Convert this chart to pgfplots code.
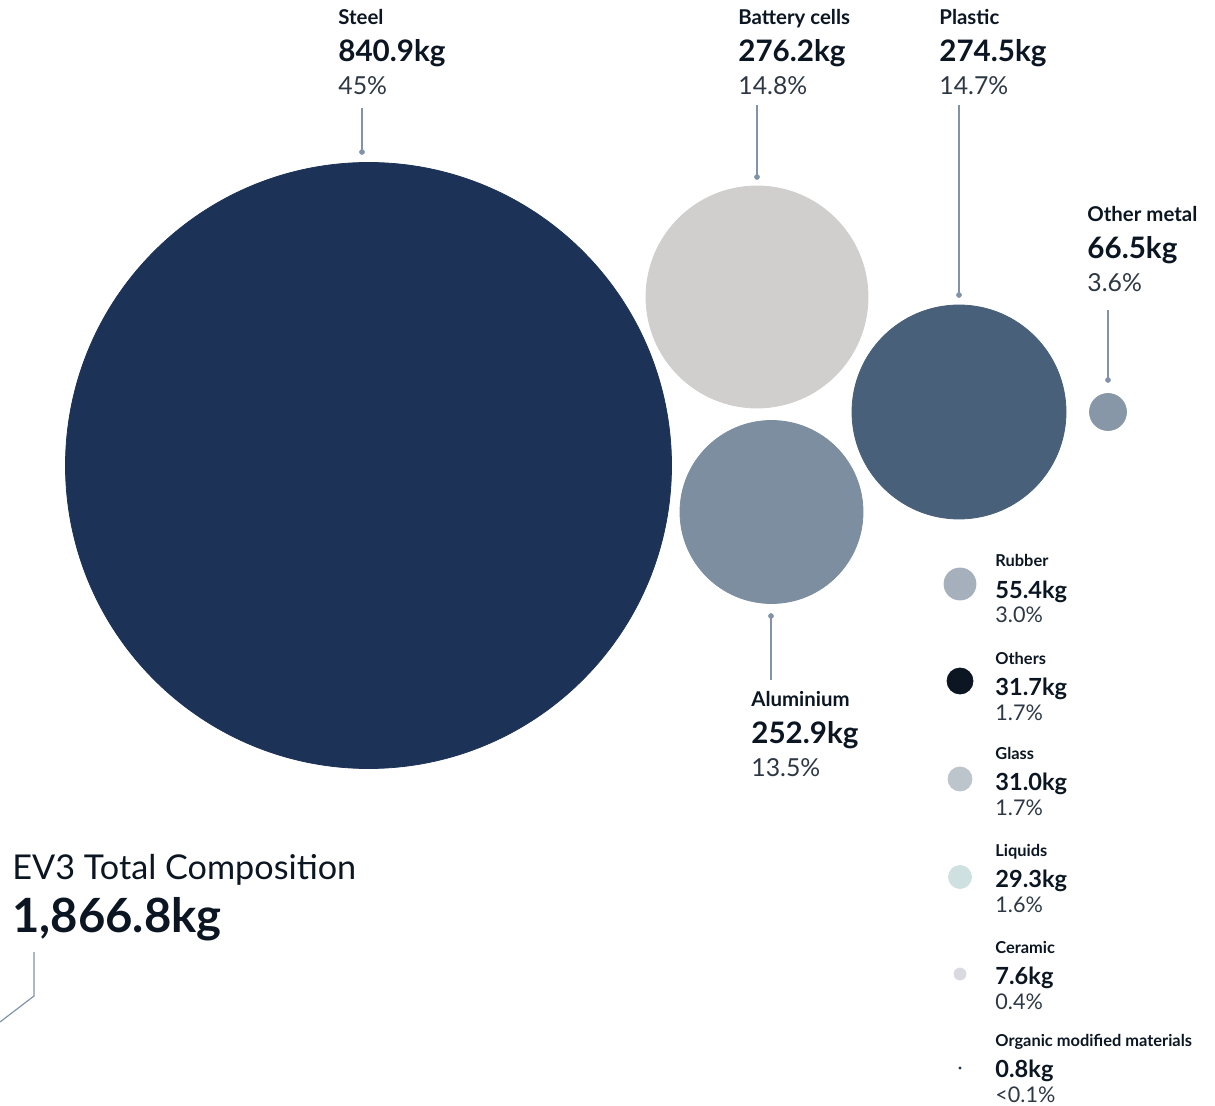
\documentclass[border=0pt]{standalone}
\usepackage{pgfplots}
\pgfplotsset{compat=1.18}
\usepackage{fontspec}
\setmainfont{Lato}
\definecolor{ink}{HTML}{0B1622}
\definecolor{pct}{HTML}{2E3845}
\definecolor{lead}{HTML}{8093A8}
\definecolor{cSteel}{HTML}{1D3257}
\definecolor{cBatt}{HTML}{D0CFCD}
\definecolor{cPlast}{HTML}{48607A}
\definecolor{cAlu}{HTML}{7D8EA1}
\definecolor{cOther}{HTML}{8797A8}
\definecolor{cRub}{HTML}{A5B0BC}
\definecolor{cOthers}{HTML}{0B1622}
\definecolor{cGlass}{HTML}{BCC4CC}
\definecolor{cLiq}{HTML}{CFE0E0}
\definecolor{cCer}{HTML}{D9D9E0}
\definecolor{cOrg}{HTML}{1D3257}
\newcommand\blab[5]{%
 \node[anchor=base west,inner sep=0pt,text=ink,font=\fontsize{10.2}{11}\selectfont\bfseries] at (axis cs:#1,#2) {#3};
 \node[anchor=base west,inner sep=0pt,text=ink,font=\fontsize{14.8}{16}\selectfont\bfseries] at (axis cs:#1,#2+37) {#4};
 \node[anchor=base west,inner sep=0pt,text=pct,font=\fontsize{12.4}{14}\selectfont] at (axis cs:#1,#2+70) {#5};}
\newcommand\slab[4]{%
 \node[anchor=base west,inner sep=0pt,text=ink,font=\fontsize{8.2}{9}\selectfont\bfseries] at (axis cs:995,#1) {#2};
 \node[anchor=base west,inner sep=0pt,text=ink,font=\fontsize{11.8}{13}\selectfont\bfseries] at (axis cs:995,#1+31) {#3};
 \node[anchor=base west,inner sep=0pt,text=pct,font=\fontsize{10.8}{12}\selectfont] at (axis cs:995,#1+56) {#4};}
\begin{document}
\begin{tikzpicture}
\begin{axis}[x=0.5pt,y=0.5pt,xmin=0,xmax=1215,ymin=0,ymax=1106,y dir=reverse,
  hide axis, clip=false, scale only axis]
% bubbles (x,y in px, mark size = radius*0.5pt)
\addplot[only marks,mark=*,mark size=151.5pt,color=cSteel] coordinates {(368.5,465.5)};
\addplot[only marks,mark=*,mark size=55.5pt,color=cBatt] coordinates {(757,297)};
\addplot[only marks,mark=*,mark size=53.5pt,color=cPlast] coordinates {(959,412)};
\addplot[only marks,mark=*,mark size=45.75pt,color=cAlu] coordinates {(771.5,512)};
\addplot[only marks,mark=*,mark size=9.25pt,color=cOther] coordinates {(1108,412)};
\addplot[only marks,mark=*,mark size=8pt,color=cRub] coordinates {(960,584)};
\addplot[only marks,mark=*,mark size=6.5pt,color=cOthers] coordinates {(960,681)};
\addplot[only marks,mark=*,mark size=6pt,color=cGlass] coordinates {(960,779)};
\addplot[only marks,mark=*,mark size=5.75pt,color=cLiq] coordinates {(960,877)};
\addplot[only marks,mark=*,mark size=3pt,color=cCer] coordinates {(960,974)};
\addplot[only marks,mark=*,mark size=0.5pt,color=cOrg] coordinates {(960,1068)};
% leader lines
\addplot[lead,line width=0.6pt] coordinates {(362,108) (362,152)};
\addplot[only marks,mark=*,mark size=1.2pt,lead] coordinates {(362,152)};
\addplot[lead,line width=0.6pt] coordinates {(757,105) (757,177)};
\addplot[only marks,mark=*,mark size=1.2pt,lead] coordinates {(757,177)};
\addplot[lead,line width=0.6pt] coordinates {(959,105) (959,295)};
\addplot[only marks,mark=*,mark size=1.2pt,lead] coordinates {(959,295)};
\addplot[lead,line width=0.6pt] coordinates {(1108,310) (1108,380)};
\addplot[only marks,mark=*,mark size=1.2pt,lead] coordinates {(1108,380)};
\addplot[lead,line width=0.6pt] coordinates {(771,616) (771,680)};
\addplot[only marks,mark=*,mark size=1.2pt,lead] coordinates {(771,616)};
\addplot[lead,line width=0.6pt] coordinates {(34,952) (34,996) (0,1022)};
% big labels
\blab{338}{25}{Steel}{840.9kg}{45\%}
\blab{738}{25}{Battery cells}{276.2kg}{14.8\%}
\blab{939}{25}{Plastic}{274.5kg}{14.7\%}
\blab{1087}{222}{Other metal}{66.5kg}{3.6\%}
\blab{751}{706}{Aluminium}{252.9kg}{13.5\%}
% legend labels
\slab{567}{Rubber}{55.4kg}{3.0\%}
\slab{664}{Others}{31.7kg}{1.7\%}
\slab{759}{Glass}{31.0kg}{1.7\%}
\slab{856}{Liquids}{29.3kg}{1.6\%}
\slab{953}{Ceramic}{7.6kg}{0.4\%}
\slab{1046}{Organic modified materials}{0.8kg}{<0.1\%}
% total
\node[anchor=base west,inner sep=0pt,text=ink,font=\fontsize{17.1}{19}\selectfont] at (axis cs:12,879) {EV3 Total Composition};
\node[anchor=base west,inner sep=0pt,text=ink,font=\fontsize{23.6}{25}\selectfont\bfseries] at (axis cs:12,932) {1,866.8kg};
\end{axis}
\pgfresetboundingbox
\path (current axis.south west) rectangle (current axis.north east);
\end{tikzpicture}
\end{document}
